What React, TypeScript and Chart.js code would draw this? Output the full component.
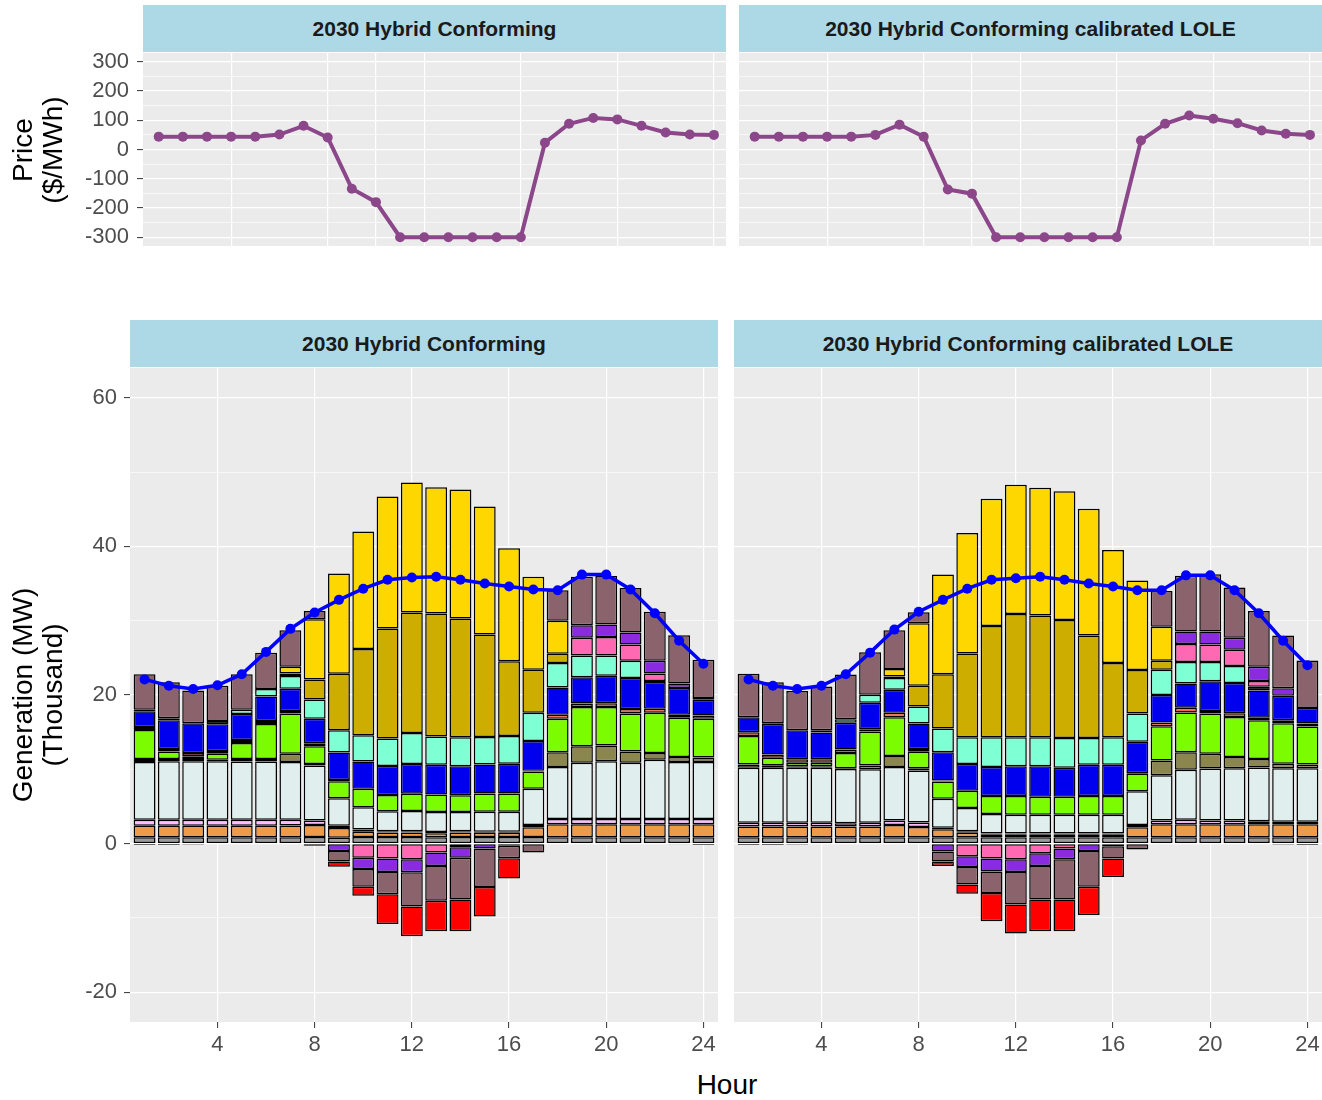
import React, { useEffect, useRef } from 'react';
import { Chart, registerables } from 'chart.js';

Chart.register(...registerables);

const FONT = "'Liberation Sans', Arial, Helvetica, sans-serif";

// ---------- categories / ticks ----------
const hours = [1, 2, 3, 4, 5, 6, 7, 8, 9, 10, 11, 12, 13, 14, 15, 16, 17, 18, 19, 20, 21, 22, 23, 24];
const panelTitles = ['2030 Hybrid Conforming', '2030 Hybrid Conforming calibrated LOLE'];
const hourTicks = [4, 8, 12, 16, 20, 24];
const hourGridTop = [4, 8, 10, 12, 16, 20, 24];
const priceGrid = [-300, -250, -200, -150, -100, -50, 0, 50, 100, 150, 200, 250, 300];
const priceLabels = [-300, -200, -100, 0, 100, 200, 300];
const genGrid = [-20, -10, 0, 10, 20, 30, 40, 50, 60];
const genLabels = [-20, 0, 20, 40, 60];

// ---------- price ($/MWh) ----------
const priceConf = [44, 44, 44, 44, 44, 51, 81, 41, -134, -180, -300, -300, -300, -300, -300, -300, 23, 88, 108, 103, 81, 58, 51, 50];
const priceLole = [44, 44, 44, 44, 44, 50, 85, 44, -137, -151, -300, -300, -300, -300, -300, -300, 31, 88, 116, 105, 90, 65, 54, 50];

// ---------- load line (thousand MW) ----------
const loadConf = [22.1, 21.25, 20.8, 21.3, 22.8, 25.8, 28.9, 31.1, 32.8, 34.3, 35.5, 35.8, 35.9, 35.5, 35.0, 34.6, 34.2, 34.1, 36.2, 36.2, 34.2, 31.0, 27.3, 24.2];
const loadLole = [22.1, 21.25, 20.8, 21.25, 22.8, 25.7, 28.8, 31.2, 32.8, 34.3, 35.5, 35.7, 35.9, 35.5, 35.0, 34.6, 34.1, 34.1, 36.1, 36.1, 34.1, 31.0, 27.3, 24.0];

// ---------- generation layers, Conforming ----------
const grayConf = [0.85, 0.85, 0.85, 0.85, 0.85, 0.85, 0.85, 0.9, 0.8, 0.9, 0.9, 0.9, 0.85, 0.9, 0.9, 0.9, 0.9, 0.85, 0.85, 0.85, 0.85, 0.85, 0.85, 0.85];
const orangeConf = [1.55, 1.55, 1.55, 1.55, 1.55, 1.55, 1.6, 1.6, 1.3, 0.7, 0.6, 0.6, 0.55, 0.6, 0.55, 0.55, 1.3, 1.75, 1.75, 1.75, 1.75, 1.75, 1.75, 1.75];
const plumConf = [0.8, 0.8, 0.8, 0.8, 0.8, 0.8, 0.75, 0.6, 0.3, 0.3, 0.15, 0.15, 0.15, 0.15, 0.15, 0.15, 0.3, 0.7, 0.7, 0.7, 0.7, 0.7, 0.7, 0.7];
const azureConf = [7.8, 7.9, 7.9, 7.9, 7.85, 7.85, 7.8, 7.4, 3.7, 3.0, 2.7, 2.75, 2.7, 2.6, 2.7, 2.7, 4.9, 7.0, 7.6, 7.8, 7.6, 8.0, 7.7, 7.7];
const oliveConf = [0.4, 0.3, 0.3, 0.2, 0.35, 0.35, 1.1, 0.2, 0, 0, 0, 0, 0, 0, 0, 0, 0, 2.0, 2.2, 2.1, 1.5, 0.9, 0.65, 0.6];
const greenConf = [3.9, 1.0, 0.35, 0.8, 2.15, 4.7, 5.4, 2.4, 2.3, 2.5, 2.2, 2.3, 2.35, 2.25, 2.45, 2.45, 2.3, 4.5, 5.3, 5.2, 5.1, 5.4, 5.3, 5.2];
const tomatoConf = [0.4, 0.35, 0.45, 0.35, 0.4, 0.4, 0.35, 0.4, 0.15, 0, 0, 0, 0, 0, 0, 0, 0.1, 0.55, 0.45, 0.5, 0.6, 0.55, 0.4, 0.45];
const blueConf = [2.1, 3.85, 4.0, 3.6, 3.5, 3.3, 3.0, 3.3, 3.7, 3.65, 3.9, 4.0, 4.0, 3.9, 3.9, 4.0, 4.0, 3.65, 3.55, 3.7, 4.2, 3.6, 3.6, 2.1];
const aquaConf = [-0.2, -0.2, 0, 0, 0.55, 1.0, 1.7, 2.6, 3.0, 3.55, 3.7, 4.2, 3.8, 3.9, 3.7, 3.75, 3.8, 3.3, 2.9, 2.7, 2.3, 0, 0, -0.2];
const blackConf = [0.2, 0.27, -0.15, 0.45, 0, 0, 0.35, 0, 0, 0, 0, 0, 0, 0, 0, 0, 0, 0, 0, 0, 0, 0.15, -0.1, 0.25];
const gold3Conf = [0, 0, 0, 0, 0, 0, 0, 2.7, 7.6, 11.6, 14.8, 16.2, 16.55, 16.0, 13.8, 10.05, 5.8, 1.25, 0, 0, 0, 0, 0, 0];
const goldConf = [0, 0, 0, 0, 0, 0, 0.9, 8.1, 13.5, 15.8, 17.75, 17.5, 17.0, 17.35, 17.2, 15.2, 12.5, 4.45, 0, 0, 0, 0, 0, 0];
const hotpinkConf = [0, 0, 0, 0, 0, 0, 0, 0, 0, -1.9, -2.0, -2.1, -1.2, -0.5, 0, 0, 0, 0, 2.4, 2.5, 2.2, 1.0, 0, 0];
const violetConf = [0, 0, 0, 0, 0, 0, 0, -0.3, -1.0, -1.5, -1.8, -1.75, -1.8, -1.4, -0.65, -0.3, 0, 0, 1.7, 1.7, 1.6, 1.7, 0.6, 0];
const mauveConf = [4.8, 4.83, 4.4, 4.75, 4.8, 4.9, 4.9, 1.1, -1.4, -2.4, -3.0, -4.6, -4.7, -5.6, -5.2, -1.65, -1.2, 4.1, 6.5, 6.5, 6.0, 6.6, 6.5, 5.15];
const redConf = [0, 0, 0, 0, 0, 0, 0, 0, -0.7, -1.2, -4.0, -4.0, -4.1, -4.3, -3.95, -2.75, 0, 0, 0, 0, 0, 0, 0, 0];

// ---------- generation layers, calibrated LOLE ----------
const grayLole = [0.85, 0.85, 0.85, 0.85, 0.85, 0.85, 0.85, 0.85, 0.85, 0.85, 0.85, 0.85, 0.85, 0.85, 0.85, 0.85, 0.85, 0.85, 0.85, 0.85, 0.85, 0.85, 0.85, 0.85];
const orangeLole = [1.45, 1.45, 1.45, 1.45, 1.45, 1.45, 1.65, 1.4, 1.1, 0.6, 0.35, 0.35, 0.35, 0.35, 0.35, 0.35, 1.35, 1.75, 1.75, 1.75, 1.75, 1.75, 1.75, 1.75];
const plumLole = [0.5, 0.5, 0.5, 0.5, 0.45, 0.5, 0.6, 0.6, 0.2, 0.2, 0.15, 0.15, 0.15, 0.15, 0.15, 0.15, 0.3, 0.5, 0.6, 0.5, 0.5, 0.4, 0.35, 0.35];
const azureLole = [7.4, 7.4, 7.4, 7.4, 7.3, 7.2, 7.2, 7.0, 3.9, 3.15, 2.65, 2.55, 2.55, 2.55, 2.55, 2.55, 4.55, 6.1, 6.75, 7.0, 7.05, 7.25, 7.2, 7.2];
const oliveLole = [0.45, 0.35, 0.2, 0.2, 0.1, 0.5, 1.5, 0.3, 0, 0, 0, 0, 0, 0, 0, 0, 0, 2.0, 2.35, 2.0, 1.5, 1.15, 0.6, 0.5];
const greenLole = [3.85, 1.0, 0.5, 0.5, 2.05, 4.6, 5.2, 2.2, 2.3, 2.3, 2.4, 2.5, 2.4, 2.4, 2.5, 2.5, 2.35, 4.6, 5.35, 5.4, 5.4, 5.2, 5.45, 5.1];
const tomatoLole = [0.5, 0.45, 0.45, 0.45, 0.45, 0.3, 0.6, 0.4, 0.15, 0, 0, 0, 0, 0, 0, 0, 0.1, 0.5, 0.65, 0.35, 0.5, 0.35, 0.4, 0.4];
const blueLole = [2.0, 4.1, 3.9, 3.6, 3.6, 3.55, 3.1, 3.4, 3.8, 3.6, 3.9, 4.0, 4.1, 3.9, 4.2, 4.2, 4.2, 3.7, 3.25, 4.0, 4.05, 3.65, 3.3, 2.1];
const aquaLole = [-0.2, -0.2, 0, 0, 0.5, 1.1, 1.6, 2.3, 3.2, 3.6, 4.0, 3.9, 3.9, 4.0, 3.6, 3.7, 3.8, 3.4, 2.9, 2.6, 2.3, 0, 0, -0.2];
const blackLole = [0, 0.1, -0.15, 0.3, 0, 0, 0.2, 0, 0, 0, 0, 0, 0, 0, 0, 0, 0, 0, 0, 0, 0, 0.5, -0.15, 0];
const gold3Lole = [0, 0, 0, 0, 0, 0, 0, 2.8, 7.3, 11.3, 15.0, 16.6, 16.4, 15.9, 13.8, 10.0, 5.85, 1.2, 0, 0, 0, 0, 0, 0];
const goldLole = [0, 0, 0, 0, 0, 0, 1.0, 8.4, 13.4, 16.2, 17.1, 17.4, 17.2, 17.3, 17.05, 15.2, 12.05, 4.6, 0, 0, 0, 0, 0, 0];
const hotpinkLole = [0, 0, 0, 0, 0, 0, 0, 0, 0, -1.7, -2.0, -2.1, -1.3, -0.65, 0, 0, 0, 0, 2.4, 2.35, 2.2, 0.8, 0, 0];
const violetLole = [0, 0, 0, 0, 0, 0, 0, 0, -1.05, -1.45, -1.75, -1.7, -1.7, -1.45, -1.0, -0.35, 0, 0, 1.7, 1.75, 1.6, 1.9, 1.0, 0];
const mauveLole = [5.85, 5.5, 5.3, 5.9, 6.0, 5.7, 5.2, 1.5, -1.35, -2.35, -2.9, -4.4, -4.5, -5.4, -4.8, -1.65, -0.8, 4.8, 7.5, 7.7, 6.75, 7.5, 7.1, 6.4];
const redLole = [0, 0, 0, 0, 0, 0, 0, 0, -0.6, -1.25, -3.8, -3.9, -4.3, -4.3, -3.8, -2.5, 0, 0, 0, 0, 0, 0, 0, 0];

// layer colours, bottom of stack first
const layerColors = ['#9A9A9A', '#EE9A49', '#FFBBFF', '#E0EEEE', '#8B864E', '#7CFC00', '#FF6347', '#0000EE', '#7FFFD4', '#000000', '#CDAD00', '#FFD700', '#FF69B4', '#8A2BE2', '#8B636C', '#FF0000'];
const layersConf = [grayConf, orangeConf, plumConf, azureConf, oliveConf, greenConf, tomatoConf, blueConf, aquaConf, blackConf, gold3Conf, goldConf, hotpinkConf, violetConf, mauveConf, redConf];
const layersLole = [grayLole, orangeLole, plumLole, azureLole, oliveLole, greenLole, tomatoLole, blueLole, aquaLole, blackLole, gold3Lole, goldLole, hotpinkLole, violetLole, mauveLole, redLole];

const panelBg = {
  id: 'panelBg',
  beforeDraw(chart: any) {
    const a = chart.chartArea;
    const ctx = chart.ctx;
    ctx.save();
    ctx.fillStyle = '#EBEBEB';
    ctx.fillRect(a.left, a.top, a.right - a.left, a.bottom - a.top);
    ctx.restore();
  },
};

function zeroPad(s: any) {
  s.paddingTop = 0;
  s.paddingBottom = 0;
  s.paddingLeft = 0;
  s.paddingRight = 0;
}

function yAxis(min: number, max: number, grid: number[], labels: number[], show: boolean, width: number, pad: number) {
  return {
    type: 'linear',
    min,
    max,
    stacked: true,
    afterBuildTicks: (s: any) => { s.ticks = grid.map((v) => ({ value: v })); },
    afterFit: (s: any) => { s.width = width; zeroPad(s); },
    border: { display: false },
    grid: {
      color: '#FFFFFF',
      lineWidth: (c: any) => (c.tick && labels.includes(c.tick.value) ? 1.2 : 0.6),
      drawTicks: show,
      tickLength: 6,
      tickWidth: 1,
      tickColor: (c: any) => (c.tick && labels.includes(c.tick.value) ? '#333333' : 'rgba(0,0,0,0)'),
    },
    ticks: {
      display: show,
      color: '#4D4D4D',
      font: { family: FONT, size: 22 },
      padding: pad,
      autoSkip: false,
      callback: (v: any) => (labels.includes(v) ? String(v) : ''),
    },
  };
}

function xAxis(min: number, max: number, grid: number[], show: boolean) {
  return {
    type: 'linear',
    min,
    max,
    offset: false,
    stacked: true,
    afterBuildTicks: (s: any) => { s.ticks = grid.map((v) => ({ value: v })); },
    afterFit: (s: any) => { s.height = show ? 40 : 0; zeroPad(s); },
    border: { display: false },
    grid: { offset: false, color: '#FFFFFF', lineWidth: 1.2, drawTicks: show, tickLength: 6, tickWidth: 1, tickColor: '#333333' },
    ticks: {
      display: show,
      color: '#4D4D4D',
      font: { family: FONT, size: 22 },
      padding: 4,
      maxRotation: 0,
      autoSkip: false,
      callback: (v: any) => String(v),
    },
  };
}

function makePrice(canvas: HTMLCanvasElement, values: number[], showY: boolean) {
  return new Chart(canvas, {
    type: 'line',
    data: {
      datasets: [{
        data: hours.map((h, i) => ({ x: h, y: values[i] })),
        borderColor: '#8B4789',
        backgroundColor: '#8B4789',
        borderWidth: 4,
        pointRadius: 5,
        pointBorderWidth: 0,
        pointBackgroundColor: '#8B4789',
        tension: 0,
      }],
    },
    options: {
      animation: false,
      responsive: false,
      devicePixelRatio: 1,
      layout: { autoPadding: false, padding: { top: 13, bottom: 10, left: 0, right: 0 } },
      plugins: { legend: { display: false }, tooltip: { enabled: false } },
      scales: {
        x: xAxis(0.35, 24.5, hourGridTop, false),
        y: { ...yAxis(-330, 330, priceGrid, priceLabels, showY, showY ? 143 : 0, 8), stacked: false },
      },
    } as any,
    plugins: [panelBg],
  } as any);
}

function makeGen(canvas: HTMLCanvasElement, layers: number[][], load: number[], showY: boolean) {
  const bars = layers.map((vals, k) => ({
    type: 'bar',
    data: hours.map((h, i) => ({ x: h, y: vals[i] === 0 ? null : vals[i] })),
    backgroundColor: layerColors[k],
    borderColor: '#000000',
    borderWidth: 1.5,
    borderSkipped: false,
    barPercentage: 0.9,
    categoryPercentage: 1,
    stack: 'gen',
    order: 2,
  }));
  const line = {
    type: 'line',
    data: hours.map((h, i) => ({ x: h, y: load[i] })),
    borderColor: '#0000FF',
    backgroundColor: '#0000FF',
    borderWidth: 3.5,
    pointRadius: 5,
    pointBorderWidth: 0,
    pointBackgroundColor: '#0000FF',
    tension: 0,
    stack: 'load',
    order: 0,
  };
  return new Chart(canvas, {
    type: 'bar',
    data: { datasets: [...bars, line] },
    options: {
      animation: false,
      responsive: false,
      devicePixelRatio: 1,
      layout: { autoPadding: false, padding: { top: 1, bottom: 0, left: 0, right: 0 } },
      plugins: { legend: { display: false }, tooltip: { enabled: false } },
      scales: {
        x: xAxis(0.4, 24.6, hourTicks, true),
        y: yAxis(-24, 64, genGrid, genLabels, showY, showY ? 130 : 0, 7),
      },
    } as any,
    plugins: [panelBg],
  } as any);
}

const stripStyle = (left: number, top: number, width: number): React.CSSProperties => ({
  position: 'absolute',
  left,
  top,
  width,
  height: 47,
  background: '#ADD8E6',
  color: '#1A1A1A',
  fontFamily: FONT,
  fontWeight: 'bold',
  fontSize: 21,
  lineHeight: '47px',
  textAlign: 'center',
  whiteSpace: 'nowrap',
});

const titleStyle = (cx: number, cy: number): React.CSSProperties => ({
  position: 'absolute',
  left: cx - 150,
  top: cy - 30,
  width: 300,
  height: 60,
  fontFamily: FONT,
  fontSize: 28,
  lineHeight: '30px',
  textAlign: 'center',
  color: '#000',
  transform: 'rotate(-90deg)',
  whiteSpace: 'nowrap',
});

export default function App() {
  const p1 = useRef<HTMLCanvasElement>(null);
  const p2 = useRef<HTMLCanvasElement>(null);
  const g1 = useRef<HTMLCanvasElement>(null);
  const g2 = useRef<HTMLCanvasElement>(null);

  useEffect(() => {
    const charts = [
      makePrice(p1.current!, priceConf, true),
      makePrice(p2.current!, priceLole, false),
      makeGen(g1.current!, layersConf, loadConf, true),
      makeGen(g2.current!, layersLole, loadLole, false),
    ];
    return () => charts.forEach((c) => c.destroy());
  }, []);

  return (
    <div style={{ position: 'absolute', left: 0, top: 0, width: 1322, height: 1100, background: '#FFFFFF', overflow: 'hidden' }}>
      <div style={stripStyle(143, 5, 583)}>{panelTitles[0]}</div>
      <div style={stripStyle(739, 5, 583)}>{panelTitles[1]}</div>
      <div style={stripStyle(130, 320, 588)}>{panelTitles[0]}</div>
      <div style={stripStyle(734, 320, 588)}>{panelTitles[1]}</div>

      <canvas ref={p1} width={726} height={216} style={{ position: 'absolute', left: 0, top: 40, width: 726, height: 216 }} />
      <canvas ref={p2} width={583} height={216} style={{ position: 'absolute', left: 739, top: 40, width: 583, height: 216 }} />
      <canvas ref={g1} width={718} height={695} style={{ position: 'absolute', left: 0, top: 367, width: 718, height: 695 }} />
      <canvas ref={g2} width={588} height={695} style={{ position: 'absolute', left: 734, top: 367, width: 588, height: 695 }} />

      <div style={titleStyle(38, 150)}>Price<br />($/MWh)</div>
      <div style={titleStyle(38, 695)}>Generation (MW)<br />(Thousand)</div>
      <div style={{ position: 'absolute', left: 627, top: 1068, width: 200, textAlign: 'center', fontFamily: FONT, fontSize: 28, lineHeight: '34px', color: '#000' }}>Hour</div>
    </div>
  );
}
